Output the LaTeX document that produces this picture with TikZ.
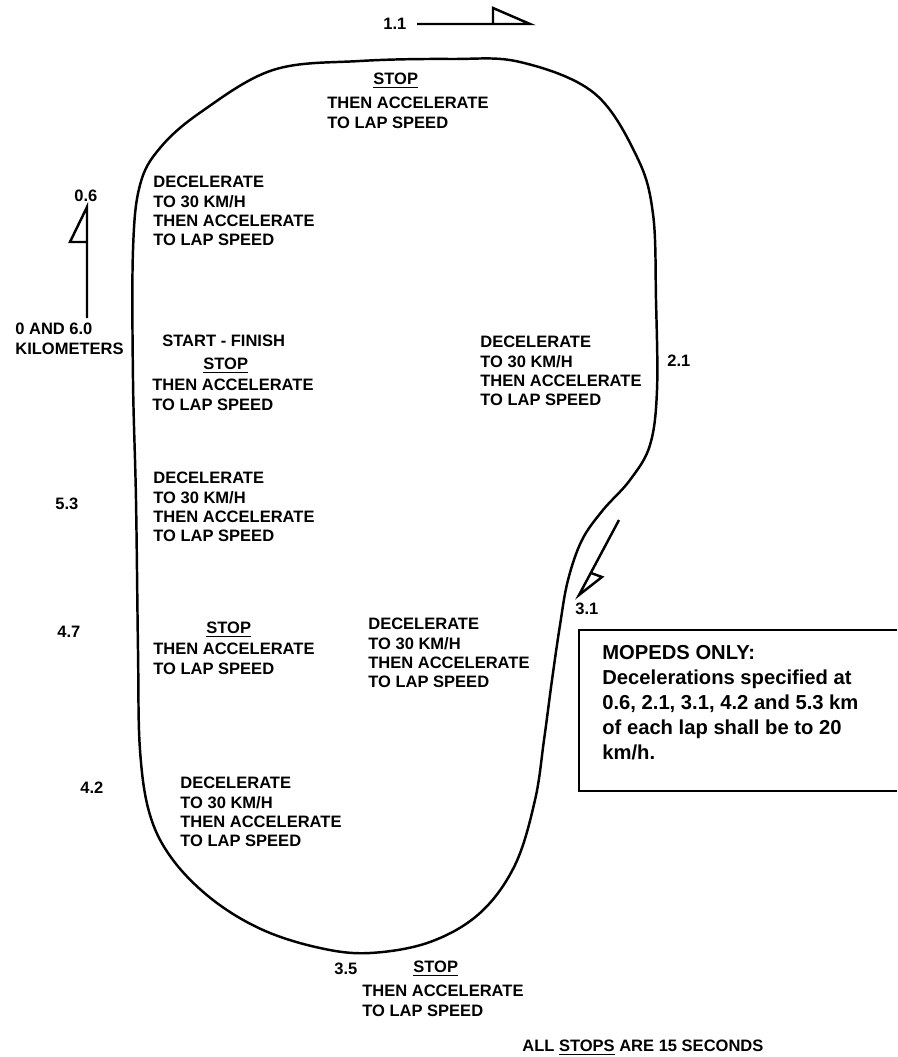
\documentclass[tikz,border=0pt]{standalone}
\usepackage{fontspec}
\setmainfont{Liberation Sans}
\usetikzlibrary{calc}

\begin{document}
\begin{tikzpicture}[x=0.02cm, y=-0.02cm,
    lbl/.style={anchor=north west, inner sep=0pt, align=left,
                font=\fontsize{9.4}{11}\selectfont\bfseries},
    note/.style={anchor=north west, inner sep=0pt, align=left,
                 font=\fontsize{11.5}{14.2}\selectfont\bfseries},
    track/.style={line width=1.4pt, line join=round},
    marker/.style={line width=1.4pt, line join=miter}]

\useasboundingbox (0,0) rectangle (897,1057);

% the course
\draw[track] plot[smooth cycle, tension=0.6] coordinates {
    (451,59) (520,62) (594,93) (637,157) (653,214) (656,300) (657,390)
    (650,445) (630,480) (603,510) (582,540) (568,580) (560,625) (552,680)
    (544,740) (535,800) (515,865) (480,913) (430,942) (370,953)
    (320,948) (263,930) (213,900) (173,860) (150,815) (140,750)
    (138,650) (136,500) (133,380) (133,250) (140,185) (160,148)
    (201,112) (273,70) (360,61)};

% direction markers
\coordinate (m11a) at (417,24);
\coordinate (m11b) at (530,24);
\draw[marker] (m11a) -- (m11b) -- (493,8) -- (493,24);

\coordinate (m06a) at (87,318);
\coordinate (m06b) at (87,207);
\draw[marker] (m06a) -- (m06b) -- (70,242) -- (87,242);

\coordinate (m31a) at (619,520);
\coordinate (m31b) at (579,595);
\draw[marker] (m31a) -- (m31b) -- (602,577) -- (591,573);

% distance labels
\node[lbl] (k11) at (383,18) {1.1};
\node[lbl] (k06) at (74,190) {0.6};
\node[lbl] (k00) at (15,323) {0 AND 6.0\\KILOMETERS};
\node[lbl] (k21) at (667,355) {2.1};
\node[lbl] (k53) at (55,498) {5.3};
\node[lbl] (k47) at (57,626) {4.7};
\node[lbl] (k31) at (575,603) {3.1};
\node[lbl] (k42) at (80,782) {4.2};
\node[lbl] (k35) at (334,963) {3.5};

% instructions
\node[lbl] (stopA) at (373,73) {\underline{STOP}};
\node[lbl] (accA) at (327,97) {THEN ACCELERATE\\TO LAP SPEED};

\node[lbl] (decA) at (153,176) {DECELERATE\\TO 30 KM/H\\THEN ACCELERATE\\TO LAP SPEED};

\node[lbl] (start) at (162,335) {START - FINISH};
\node[lbl] (stopB) at (203,358) {\underline{STOP}};
\node[lbl] (accB) at (152,379) {THEN ACCELERATE\\TO LAP SPEED};

\node[lbl] (decB) at (480,336) {DECELERATE\\TO 30 KM/H\\THEN ACCELERATE\\TO LAP SPEED};

\node[lbl] (decC) at (153,472) {DECELERATE\\TO 30 KM/H\\THEN ACCELERATE\\TO LAP SPEED};

\node[lbl] (stopC) at (206,622) {\underline{STOP}};
\node[lbl] (accC) at (153,643) {THEN ACCELERATE\\TO LAP SPEED};

\node[lbl] (decD) at (368,618) {DECELERATE\\TO 30 KM/H\\THEN ACCELERATE\\TO LAP SPEED};

\node[lbl] (decE) at (180,777) {DECELERATE\\TO 30 KM/H\\THEN ACCELERATE\\TO LAP SPEED};

\node[lbl] (stopD) at (413,961) {\underline{STOP}};
\node[lbl] (accD) at (362,985) {THEN ACCELERATE\\TO LAP SPEED};

\node[lbl] (allstops) at (522,1040) {ALL \underline{STOPS} ARE 15 SECONDS};

% moped note
\draw[line width=0.8pt] (897,630) -- (579,630) -- (579,791) -- (897,791);
\node[note] (moped) at (602,645) {MOPEDS ONLY:\\Decelerations specified at\\0.6, 2.1, 3.1, 4.2 and 5.3 km\\of each lap shall be to 20\\km/h.};

\end{tikzpicture}
\end{document}
